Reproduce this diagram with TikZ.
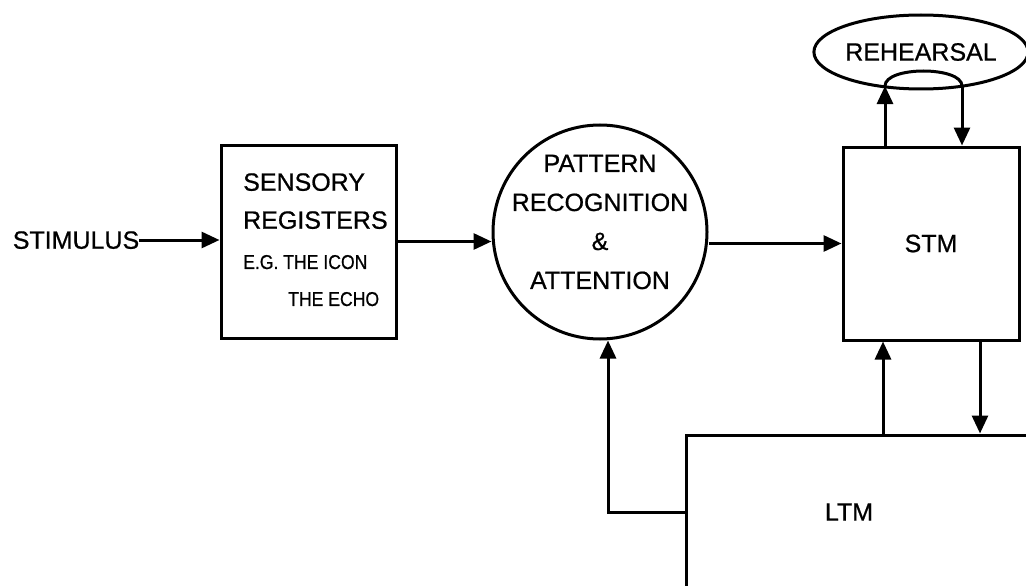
\documentclass[tikz,border=0pt]{standalone}
\usepackage{fontspec}
\setmainfont{Liberation Sans}[FakeBold=0.7]
\newfontfamily\narrowfont{Liberation Sans}[FakeBold=0.7,FakeStretch=0.88]
\usetikzlibrary{arrows.meta,shapes.geometric}
\begin{document}
\begin{tikzpicture}[x=1pt,y=-1pt,
  every node/.style={font=\fontsize{25}{30}\selectfont},
  box/.style={draw,line width=3pt,rectangle,inner sep=0pt},
  arr/.style={line width=3pt,-{Triangle[length=18pt,width=16pt]}},
  ln/.style={line width=3pt},
  lab/.style={inner sep=0pt,anchor=west,text depth=0pt},
  small/.style={font=\narrowfont\fontsize{20}{22}\selectfont}]
\clip (0,0) rectangle (1026,586);
\fill[white] (0,0) rectangle (1026,586);

% nodes
\node[inner sep=0pt,text depth=0pt] (stim) at (76,240) {STIMULUS};
\node[box,minimum width=175pt,minimum height=193pt] (sens) at (308.5,241.5) {};
\node[lab] (s1) at (243,182) {SENSORY};
\node[lab] (s2) at (243,220) {REGISTERS};
\node[lab,small] (s3) at (243,262) {E.G. THE ICON};
\node[lab,small] (s4) at (288,299) {THE ECHO};

\node[draw,circle,line width=3pt,minimum size=214pt,inner sep=0pt] (pr) at (600,232) {};
\node[align=center,inner sep=0pt,font=\fontsize{25}{39}\selectfont] (prt) at (600,222)
  {PATTERN\\RECOGNITION\\\&\\ATTENTION};

\node[box,minimum width=176pt,minimum height=193pt] (stm) at (931,243.5) {STM};
\node[draw,ellipse,line width=3pt,minimum width=196pt,minimum height=74pt,inner sep=0pt] (reh) at (921,52) {REHEARSAL};

\node[box,minimum width=354pt,minimum height=154pt] (ltm) at (863,512) {};
\node[inner sep=0pt] (ltml) at (849,512) {LTM};

% rehearsal loop
\coordinate (ra) at (885,86);
\coordinate (rb) at (962,86);
\draw[ln] (ra) .. controls (885,66) and (962,66) .. (rb);
\path ([xshift=-46pt]stm.north) coordinate (su);
\path ([xshift=31pt]stm.north) coordinate (sd);
\draw[arr] (su) -- (ra);
\draw[arr] (rb) -- (sd);

% main flow
\draw[arr] (stim.east) -- (stim.east -| sens.west);
\draw[arr] (sens.east) -- (sens.east -| pr.west);
\draw[arr] (pr.east |- stm.west) -- (stm.west);

% STM <-> LTM
\path ([xshift=-48pt]stm.south) coordinate (bu);
\path ([xshift=49pt]stm.south) coordinate (bd);
\draw[arr] (bu |- ltm.north) -- (bu);
\draw[arr] (bd) -- (bd |- ltm.north);

% LTM -> pattern recognition
\draw[arr] (ltm.west) -| ([xshift=8pt]pr.south);
\end{tikzpicture}
\end{document}
